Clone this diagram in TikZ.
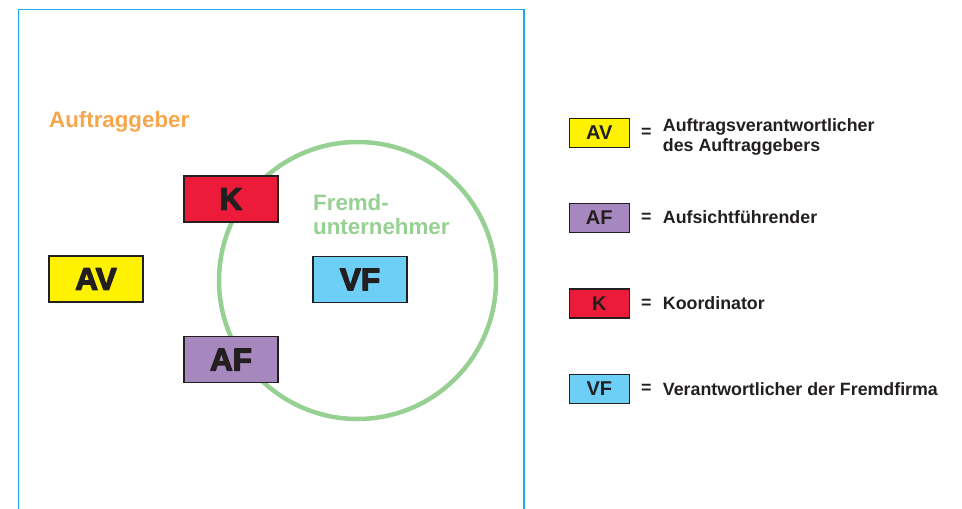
\documentclass[tikz,border=0pt]{standalone}
\usepackage{fontspec}
\setmainfont{Liberation Sans}
% heavy lettering: bold face, filled and outlined
\newcommand{\heavyletters}[1]{\special{pdf:literal direct 2 Tr 1.3 w 1 j}#1\special{pdf:literal direct 0 Tr}}
\definecolor{framecyan}{RGB}{28,172,228}
\definecolor{ringgreen}{RGB}{150,208,146}
\definecolor{clientorange}{RGB}{248,166,76}
\definecolor{avyellow}{RGB}{255,242,0}
\definecolor{kred}{RGB}{237,27,58}
\definecolor{afpurple}{RGB}{166,136,190}
\definecolor{vfblue}{RGB}{109,207,246}
\definecolor{inkdark}{RGB}{35,31,32}
\tikzset{
  rolebox/.style={draw=inkdark, line width=1.5pt, minimum width=94pt, minimum height=46pt,
    inner sep=0pt, text=inkdark, font=\bfseries\fontsize{31.5}{32}\selectfont},
  keybox/.style={draw=inkdark, line width=1.2pt, minimum width=60pt, minimum height=29pt,
    inner sep=0pt, text=inkdark, font=\bfseries\fontsize{20}{22}\selectfont},
  keyeq/.style={inner sep=0pt, text=inkdark, font=\bfseries\fontsize{17.8}{20}\selectfont},
  keytext/.style={inner sep=0pt, text=inkdark, align=left, anchor=north west,
    font=\bfseries\fontsize{17.8}{20}\selectfont},
  grouplabel/.style={inner sep=0pt, font=\bfseries\fontsize{22.3}{24}\selectfont},
}
\begin{document}
\begin{tikzpicture}[x=1pt, y=-1pt]
\useasboundingbox (0,0) rectangle (962,509);

% client area frame, open at the bottom
\draw[framecyan, line width=1.3pt] (18.5,509) |- (524,9.3) -- (524,509);

% contractor circle
\node[circle, draw=ringgreen, line width=4.5pt, minimum size=277pt, inner sep=0pt] (ring) at (357.5,280.5) {};

% group labels
\node[grouplabel, text=clientorange, anchor=base west] (client) at (49,127) {Auftraggeber};
\node[grouplabel, text=ringgreen, anchor=north west, align=left] (contractor) at (313,194.5) {Fremd-\\unternehmer};

% role boxes
\node[rolebox, fill=avyellow] (av) at (96,279) {\heavyletters{AV}};
\node[rolebox, fill=kred] (k) at (231,199) {\heavyletters{K}};
\node[rolebox, fill=afpurple] (af) at (231,359.7) {\heavyletters{AF}};
\node[rolebox, fill=vfblue] (vf) at (360,279.5) {\heavyletters{VF}};

% legend
\node[keybox, fill=avyellow] (kav) at (599.3,132.8) {AV};
\node[keyeq] (eav) at (646.3,132.8) {=};
\node[keytext] (tav) at (662.7,118) {Auftragsverantwortlicher\\des Auftraggebers};

\node[keybox, fill=afpurple] (kaf) at (599.3,218) {AF};
\node[keyeq] (eaf) at (646.3,218) {=};
\node[keytext, anchor=base west] (taf) at (662.7,223.5) {Aufsichtführender};

\node[keybox, fill=kred] (kk) at (599.3,303.5) {K};
\node[keyeq] (ek) at (646.3,303.5) {=};
\node[keytext, anchor=base west] (tk) at (662.7,309.3) {Koordinator};

\node[keybox, fill=vfblue] (kvf) at (599.3,388.8) {VF};
\node[keyeq] (evf) at (646.3,388.8) {=};
\node[keytext, anchor=base west] (tvf) at (662.7,395) {Verantwortlicher der Fremdfirma};
\end{tikzpicture}
\end{document}
